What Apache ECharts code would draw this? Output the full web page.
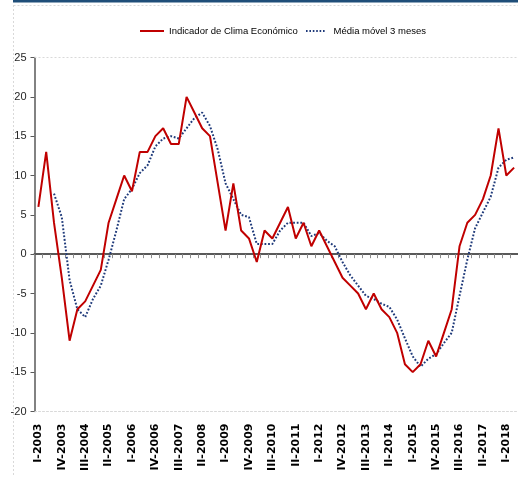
<!DOCTYPE html>
<html>
<head>
<meta charset="utf-8">
<script src="https://cdn.jsdelivr.net/npm/echarts@6/dist/echarts.min.js"></script>
<style>
  html, body { margin: 0; padding: 0; background: #ffffff; }
  #chart { width: 518px; height: 477px; }
</style>
</head>
<body>
<div id="chart"></div>
<script>
// trimestres I-2003 .. II-2018
var quarters = ['I', 'II', 'III', 'IV'];
var years = [2003, 2004, 2005, 2006, 2007, 2008, 2009, 2010, 2011, 2012, 2013, 2014, 2015, 2016, 2017, 2018];
var categories = [];
years.forEach(function (y) {
  quarters.forEach(function (q) { categories.push(q + '-' + y); });
});
categories = categories.slice(0, 62);

var yTicks = [-20, -15, -10, -5, 0, 5, 10, 15, 20, 25];

var indicador = [6, 13, 4, -3, -11, -7, -6, -4, -2, 4, 7, 10, 8, 13, 13, 15, 16, 14, 14, 20,
  18, 16, 15, 9, 3, 9, 3, 2, -1, 3, 2, 4, 6, 2, 4, 1, 3, 1, -1, -3,
  -4, -5, -7, -5, -7, -8, -10, -14, -15, -14, -11, -13, -10, -7, 1, 4, 5, 7, 10, 16,
  10, 11];

var mediaMovel = [null, null, 7.7, 4.7, -3.3, -7, -8, -5.7, -4, -0.7, 3, 7, 8.3, 10.3, 11.3, 13.7, 14.7, 15, 14.7, 16,
  17.3, 18, 16.3, 13.3, 9, 7, 5, 4.7, 1.3, 1.3, 1.3, 3, 4, 4, 4, 2.3, 2.7, 1.7, 1, -1,
  -2.7, -4, -5.3, -5.7, -6.3, -6.7, -8.3, -10.7, -13, -14.3, -13.3, -12.7, -11.3, -10, -5.3, -0.7, 3.3, 5.3, 7.3, 11,
  12, 12.3];

var myChart = echarts.init(document.getElementById('chart'));
var sans = '"Liberation Sans", Arial, sans-serif';

// ícones da legenda: traço contínuo e traço pontilhado
var iconSolid = 'path://M0,0 H24 V2 H0 Z';
var iconDots = 'path://M0,0h1.6v2h-1.6z M3.4,0h1.6v2h-1.6z M6.8,0h1.6v2h-1.6z M10.2,0h1.6v2h-1.6z M13.6,0h1.6v2h-1.6z M17,0h1.6v2h-1.6z';

var option = {
  animation: false,
  graphic: [
    { type: 'rect', left: 13, top: 0, shape: { width: 505, height: 2.5 }, style: { fill: '#1F4E79' } },
    { type: 'line', shape: { x1: 13.5, y1: 5, x2: 13.5, y2: 477 }, style: { stroke: '#d9d9d9', lineDash: [2, 2], lineWidth: 1 } },
    { type: 'line', shape: { x1: 13.5, y1: 5.5, x2: 518, y2: 5.5 }, style: { stroke: '#d9d9d9', lineDash: [2, 2], lineWidth: 1 } }
  ],
  legend: [
    {
      data: [{ name: 'Indicador de Clima Económico', icon: iconSolid }],
      left: 135, top: 21,
      itemWidth: 24, itemHeight: 2, itemGap: 4,
      textStyle: { fontFamily: sans, fontSize: 9.5, color: '#000' }
    },
    {
      data: [{ name: 'Média móvel 3 meses', icon: iconDots }],
      left: 301, top: 21,
      itemWidth: 18.6, itemHeight: 2,
      textStyle: { fontFamily: sans, fontSize: 9.5, color: '#000', padding: [0, 0, 0, 4] }
    }
  ],
  grid: { left: 34.5, right: -4.4, top: 57.5, bottom: 65.5 },
  xAxis: [
    {
      type: 'category',
      data: categories,
      boundaryGap: true,
      axisLine: { onZero: true, lineStyle: { color: '#595959', width: 2 } },
      axisTick: { show: true, interval: 0, length: 4, lineStyle: { color: '#8c8c8c' } },
      axisLabel: { show: false },
      splitLine: { show: false }
    },
    {
      type: 'category',
      data: categories,
      position: 'bottom',
      boundaryGap: true,
      axisLine: { show: true, onZero: false, lineStyle: { color: '#d9d9d9', type: [2, 2] } },
      axisTick: { show: false },
      axisLabel: {
        interval: 2, rotate: 90, margin: 12,
        fontFamily: '"DejaVu Sans", sans-serif', fontSize: 11, fontWeight: 'bold', color: '#000'
      },
      splitLine: { show: false }
    }
  ],
  yAxis: {
    type: 'value',
    min: yTicks[0], max: yTicks[yTicks.length - 1], interval: 5,
    axisLine: { show: true, lineStyle: { color: '#595959', width: 1.5 } },
    axisTick: { show: true, length: 4, lineStyle: { color: '#595959' } },
    axisLabel: { fontFamily: sans, fontSize: 11, color: '#262626', margin: 8 },
    splitLine: { show: false }
  },
  series: [
    {
      name: 'Indicador de Clima Económico',
      type: 'line',
      xAxisIndex: 0,
      data: indicador,
      symbol: 'none',
      lineStyle: { color: '#C00000', width: 2 },
      itemStyle: { color: '#C00000' },
      markLine: {
        silent: true, symbol: 'none', label: { show: false },
        lineStyle: { color: '#d9d9d9', type: [2, 2], width: 1 },
        data: [{ yAxis: 25 }]
      },
      z: 3
    },
    {
      name: 'Média móvel 3 meses',
      type: 'line',
      xAxisIndex: 0,
      data: mediaMovel,
      symbol: 'none',
      lineStyle: { color: '#1F3A7A', width: 2, type: [1.8, 1.8] },
      itemStyle: { color: '#1F3A7A' },
      z: 2
    }
  ]
};

myChart.setOption(option);
</script>
</body>
</html>
